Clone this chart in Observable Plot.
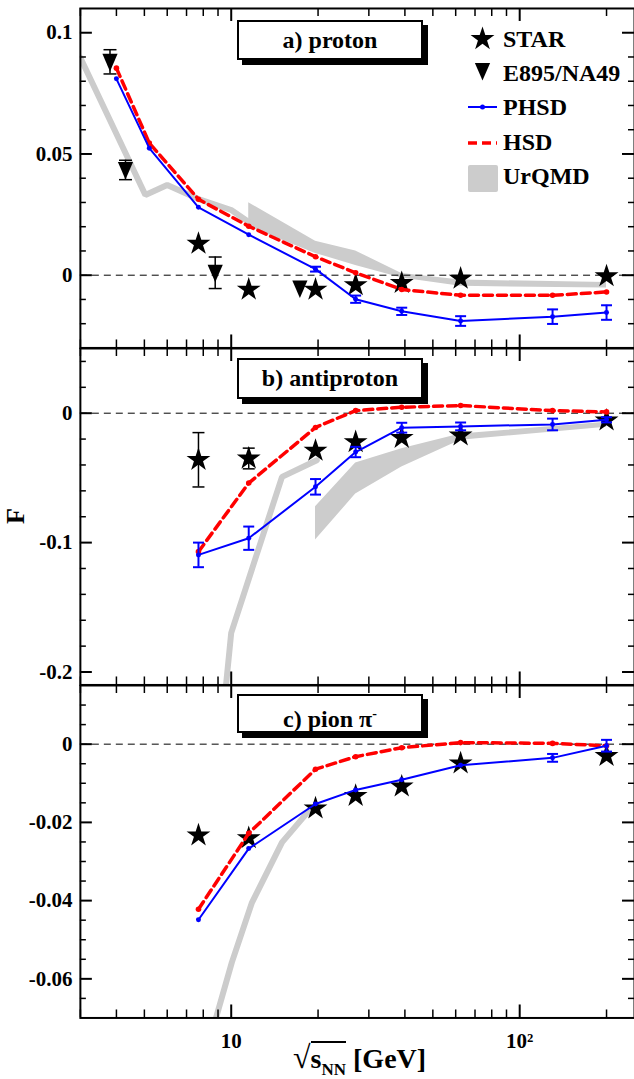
<!DOCTYPE html>
<html><head><meta charset="utf-8">
<script src="https://cdn.jsdelivr.net/npm/d3@7"></script>
<script src="https://cdn.jsdelivr.net/npm/@observablehq/plot@0.6"></script>
<style>
body{margin:0;background:#fff;width:634px;height:1079px;overflow:hidden;position:relative;font-family:"Liberation Serif","Times New Roman",serif;font-weight:bold;color:#000;}
.panel{position:absolute;left:0;}
.tag{position:absolute;left:237px;width:182px;border:2px solid #000;background:#fff;box-shadow:5px 5px 0 #000;text-align:center;font-size:24px;font-weight:bold;}
</style></head><body>
<div id="root"></div>
<script>
// ---------- data ----------
const energySTAR = [7.7, 11.5, 19.6, 27, 39, 62.4, 200];
const starProton = [0.013, -0.0059, -0.0059, -0.0041, -0.0032, -0.0014, -0.0004];
const starProtonErr = [0, 0, 0, 0, 0, 0, 0];
const starAntiproton = [-0.036, -0.035, -0.029, -0.0223, -0.019, -0.0172, -0.0056];
const starAntiprotonErr = [0.021, 0.008, 0, 0, 0, 0, 0];
const starPion = [-0.0233, -0.024, -0.0164, -0.0132, -0.0108, -0.0049, -0.003];
const starPionErr = [0, 0, 0, 0, 0, 0, 0];

const energyFixed = [3.8, 4.3, 8.8, 17.3];
const fixedProton = [0.088, 0.0434, 0.001, -0.0055];
const fixedProtonErr = [0.005, 0.004, 0.0065, 0];

const energyModelA = [4.0, 5.2, 7.7, 11.5, 19.6, 27, 39, 62.4, 130, 200];
const phsdProton = [0.081, 0.0524, 0.028, 0.0167, 0.0025, -0.0099, -0.0149, -0.0189, -0.0171, -0.0154];
const phsdProtonErr = [0, 0, 0, 0, 0.001, 0.0015, 0.0015, 0.002, 0.003, 0.003];
const hsdProton = [0.0854, 0.0545, 0.0313, 0.0202, 0.0076, 0.001, -0.0059, -0.0083, -0.0083, -0.0069];

const energyModel = [7.7, 11.5, 19.6, 27, 39, 62.4, 130, 200];
const phsdAntiproton = [-0.1095, -0.0966, -0.0569, -0.030, -0.0112, -0.0102, -0.0087, -0.0051];
const phsdAntiprotonErr = [0.0095, 0.009, 0.006, 0.004, 0.0038, 0.003, 0.0045, 0.002];
const hsdAntiproton = [-0.107, -0.054, -0.011, 0.002, 0.0046, 0.0059, 0.002, 0.001];
const phsdPion = [-0.0449, -0.0267, -0.0153, -0.0117, -0.0091, -0.0054, -0.0035, -0.0004];
const phsdPionErr = [0, 0, 0, 0, 0, 0, 0.001, 0.0015];
const hsdPion = [-0.0422, -0.0228, -0.0064, -0.0032, -0.0009, 0.0004, 0.0002, -0.0004];

// UrQMD: thin line part and band part
const urLineEnergyA = [3.0, 5.04, 6.0, 7.7, 10, 11.5];
const urLineProton = [0.0897, 0.0331, 0.0372, 0.0314, 0.0269, 0.022];
const urBandEnergyA = [11.5, 19.6, 27, 39, 62.4, 200];
const urBandProtonLo = [0.020, 0.009, 0.004, -0.0012, -0.0046, -0.0053];
const urBandProtonHi = [0.0299, 0.014, 0.0100, 0.0007, -0.002, -0.003];

const urLineEnergyB = [9.4, 10, 15, 19.8];
const urLineAntiproton = [-0.23, -0.1697, -0.0492, -0.0364];
const urBandEnergyB = [19.6, 27, 39, 62.4, 200];
const urBandAntiprotonLo = [-0.098, -0.0625, -0.0415, -0.021, -0.0108];
const urBandAntiprotonHi = [-0.0723, -0.0385, -0.0274, -0.016, -0.0069];

const urLineEnergyC = [8.7, 10.05, 11.8, 15, 18.8, 19.6];
const urLinePion = [-0.072, -0.0558, -0.0405, -0.0251, -0.0166, -0.0158];

// axes
const xDomain = [3, 250];
const xMajor = [10, 100];
const xMajorLabels = ["10", "10\u00B2"];
const xMinor = [3, 4, 5, 6, 7, 8, 9, 20, 30, 40, 50, 60, 70, 80, 90, 200];

const yDomainA = [-0.03, 0.11];
const yMajorA = [0, 0.05, 0.1];
const yMajorLabelsA = ["0", "0.05", "0.1"];
const yMinorA = [-0.03, -0.02, -0.01, 0.01, 0.02, 0.03, 0.04, 0.06, 0.07, 0.08, 0.09];

const yDomainB = [-0.21, 0.05];
const yMajorB = [-0.2, -0.1, 0];
const yMajorLabelsB = ["-0.2", "-0.1", "0"];
const yMinorB = [-0.18, -0.16, -0.14, -0.12, -0.08, -0.06, -0.04, -0.02, 0.02, 0.04];

const yDomainC = [-0.07, 0.015];
const yMajorC = [-0.06, -0.04, -0.02, 0];
const yMajorLabelsC = ["-0.06", "-0.04", "-0.02", "0"];
const yMinorC = [-0.065, -0.055, -0.05, -0.045, -0.035, -0.03, -0.025, -0.015, -0.01, -0.005, 0.005, 0.01];

const panelTitles = ["a) proton", "b) antiproton", "c) pion \u03C0<sup style='font-size:14px'>-</sup>"];
const legendLabels = ["STAR", "E895/NA49", "PHSD", "HSD", "UrQMD"];

// ---------- styles ----------
const BLUE = "#0000ff", RED = "#ff0000", GRAY = "#cccccc", BLACK = "#000";
const FONT = "Liberation Serif, Times New Roman, serif";
const W = 635, ML = 80, MR = 0;
const innerW = W - ML - MR;

const downTriangle = {draw(ctx, size) {const r = Math.sqrt(size / Math.PI); ctx.moveTo(-0.95 * r, -r); ctx.lineTo(0.95 * r, -r); ctx.lineTo(0, 1.2 * r); ctx.closePath();}};
const hbar = {draw(ctx, size) {const r = Math.sqrt(size / Math.PI); ctx.moveTo(-r, 0); ctx.lineTo(r, 0);}};

const rows = (xs, ys, es) => xs.map((x, i) => ({x, y: ys[i], e: es ? es[i] : 0}));
const band = (xs, lo, hi) => xs.map((x, i) => ({x, lo: lo[i], hi: hi[i]}));

function errMarks(data, color, width, cap) {
  const d = data.filter(r => r.e > 0);
  return [
    Plot.ruleX(d, {x: "x", y1: r => r.y - r.e, y2: r => r.y + r.e, stroke: color, strokeWidth: width}),
    Plot.dot(d, {x: "x", y: r => r.y - r.e, symbol: hbar, r: cap, stroke: color, fill: "none", strokeWidth: width}),
    Plot.dot(d, {x: "x", y: r => r.y + r.e, symbol: hbar, r: cap, stroke: color, fill: "none", strokeWidth: width})
  ];
}

function panel(o) {
  const innerH = o.height - o.mt - o.mb;
  const yLab = new Map(o.yMajor.map((v, i) => [v, o.yMajorLabels[i]]));
  const xLab = new Map(xMajor.map((v, i) => [v, xMajorLabels[i]]));
  const marks = [];
  if (o.urBand) marks.push(Plot.areaY(o.urBand, {x: "x", y1: "lo", y2: "hi", fill: GRAY, clip: true}));
  if (o.urLine) marks.push(Plot.line(o.urLine, {x: "x", y: "y", stroke: GRAY, strokeWidth: 6, strokeLinejoin: "miter", clip: true}));
  marks.push(Plot.ruleY([0], {stroke: BLACK, strokeWidth: 1, strokeDasharray: "7,5"}));
  // experimental data
  marks.push(...errMarks(o.stars, BLACK, 1.5, 6));
  marks.push(Plot.dot(o.stars, {x: "x", y: "y", symbol: "star", r: 7.5, fill: BLACK, stroke: "none"}));
  if (o.fixed) {
    marks.push(...errMarks(o.fixed, BLACK, 1.5, 6.5));
    marks.push(Plot.dot(o.fixed, {x: "x", y: "y", symbol: downTriangle, r: 8, fill: BLACK, stroke: "none"}));
  }
  // HSD
  marks.push(Plot.line(o.hsd, {x: "x", y: "y", stroke: RED, strokeWidth: 3.5, strokeDasharray: "9,5"}));
  marks.push(Plot.dot(o.hsd, {x: "x", y: "y", r: 2.8, fill: RED, stroke: "none"}));
  // PHSD
  marks.push(Plot.line(o.phsd, {x: "x", y: "y", stroke: BLUE, strokeWidth: 2}));
  marks.push(...errMarks(o.phsd, BLUE, 2, 5.5));
  marks.push(Plot.dot(o.phsd, {x: "x", y: "y", r: 2.5, fill: BLUE, stroke: "none"}));
  // ticks (inward, all four sides)
  const tk = (vals, len, sw) => [
    Plot.tickY(vals, {y: d => d, insetRight: innerW - len, stroke: BLACK, strokeWidth: sw}),
    Plot.tickY(vals, {y: d => d, insetLeft: innerW - len, stroke: BLACK, strokeWidth: sw})
  ];
  const tkx = (vals, len, sw) => [
    Plot.tickX(vals, {x: d => d, insetBottom: innerH - len, stroke: BLACK, strokeWidth: sw}),
    Plot.tickX(vals, {x: d => d, insetTop: innerH - len, stroke: BLACK, strokeWidth: sw})
  ];
  marks.push(...tk(o.yMinor, 6, 1.5), ...tk(o.yMajor, 12, 2), ...tkx(xMinor, 8, 1.5), ...tkx(xMajor, 13, 2));
  marks.push(Plot.frame({stroke: BLACK, strokeWidth: 2}));
  marks.push(Plot.axisY(o.yMajor, {tickSize: 0, tickPadding: 8, label: null, tickFormat: d => yLab.get(d), fontSize: 21, fontWeight: "bold"}));
  if (o.showX) marks.push(Plot.axisX(xMajor, {tickSize: 0, tickPadding: 15, label: null, tickFormat: d => xLab.get(d), fontSize: 21, fontWeight: "bold"}));
  const svg = Plot.plot({
    width: W, height: o.height,
    marginLeft: ML, marginRight: MR, marginTop: o.mt, marginBottom: o.mb,
    x: {type: "log", domain: xDomain, axis: o.showX ? undefined : null},
    y: {domain: o.yDomain},
    style: {fontFamily: FONT, fontWeight: "bold", fontSize: "21px", background: "transparent", overflow: "visible"},
    marks
  });
  svg.classList.add("panel");
  svg.style.top = o.top + "px";
  document.getElementById("root").appendChild(svg);
}

panel({top: 0, height: 352, mt: 8, mb: 4, yDomain: yDomainA, yMajor: yMajorA, yMajorLabels: yMajorLabelsA, yMinor: yMinorA,
  stars: rows(energySTAR, starProton, starProtonErr), fixed: rows(energyFixed, fixedProton, fixedProtonErr),
  phsd: rows(energyModelA, phsdProton, phsdProtonErr), hsd: rows(energyModelA, hsdProton),
  urLine: rows(urLineEnergyA, urLineProton), urBand: band(urBandEnergyA, urBandProtonLo, urBandProtonHi)});
panel({top: 344, height: 345, mt: 4, mb: 4, yDomain: yDomainB, yMajor: yMajorB, yMajorLabels: yMajorLabelsB, yMinor: yMinorB,
  stars: rows(energySTAR, starAntiproton, starAntiprotonErr),
  phsd: rows(energyModel, phsdAntiproton, phsdAntiprotonErr), hsd: rows(energyModel, hsdAntiproton),
  urLine: rows(urLineEnergyB, urLineAntiproton), urBand: band(urBandEnergyB, urBandAntiprotonLo, urBandAntiprotonHi)});
panel({top: 681, height: 398, mt: 4, mb: 61, yDomain: yDomainC, yMajor: yMajorC, yMajorLabels: yMajorLabelsC, yMinor: yMinorC,
  stars: rows(energySTAR, starPion, starPionErr),
  phsd: rows(energyModel, phsdPion, phsdPionErr), hsd: rows(energyModel, hsdPion),
  urLine: rows(urLineEnergyC, urLinePion), showX: true});

// panel tags
const root = document.getElementById("root");
[[20, 36], [358, 37], [694, 35]].forEach(([t, h], i) => {
  const d = document.createElement("div");
  d.className = "tag";
  d.style.top = t + "px"; d.style.height = h + "px"; d.style.lineHeight = h + "px";
  d.innerHTML = panelTitles[i];
  root.appendChild(d);
});

// legend
const lg = d3.select(root).append("svg").attr("width", 634).attr("height", 200)
  .style("position", "absolute").style("left", "0px").style("top", "0px")
  .attr("font-family", FONT).attr("font-weight", "bold").attr("font-size", 24);
const lx = 482.5, tx = 503;
lg.append("path").attr("d", d3.symbol(d3.symbolStar, Math.PI * 7.5 * 7.5)()).attr("transform", `translate(${lx},39)`).attr("fill", BLACK);
lg.append("path").attr("d", d3.symbol(downTriangle, Math.PI * 8 * 8)()).attr("transform", `translate(${lx},71)`).attr("fill", BLACK);
lg.append("line").attr("x1", 468).attr("x2", 497).attr("y1", 107).attr("y2", 107).attr("stroke", BLUE).attr("stroke-width", 2);
lg.append("circle").attr("cx", lx).attr("cy", 107).attr("r", 2.5).attr("fill", BLUE);
lg.append("line").attr("x1", 468).attr("x2", 497).attr("y1", 143).attr("y2", 143).attr("stroke", RED).attr("stroke-width", 3.5).attr("stroke-dasharray", "9,5");
lg.append("rect").attr("x", 468).attr("y", 165).attr("width", 30).attr("height", 27).attr("fill", GRAY).attr("rx", 2);
[47, 81, 115, 150, 184].forEach((y, i) => lg.append("text").attr("x", tx).attr("y", y).text(legendLabels[i]));

// axis titles
const yl = document.createElement("div");
yl.style.cssText = "position:absolute;left:8px;top:503px;font-size:26px;transform:rotate(-90deg);line-height:26px;";
yl.textContent = "F";
root.appendChild(yl);
const xl = document.createElement("div");
xl.style.cssText = "position:absolute;left:293px;top:1042px;font-size:28px;white-space:nowrap;line-height:30px;";
xl.innerHTML = "<span style='font-size:32px;font-weight:normal'>\u221A</span><span style='border-top:2px solid #000;'>s<sub style='font-size:17px'>NN</sub></span> [GeV]";
root.appendChild(xl);
</script></body></html>
